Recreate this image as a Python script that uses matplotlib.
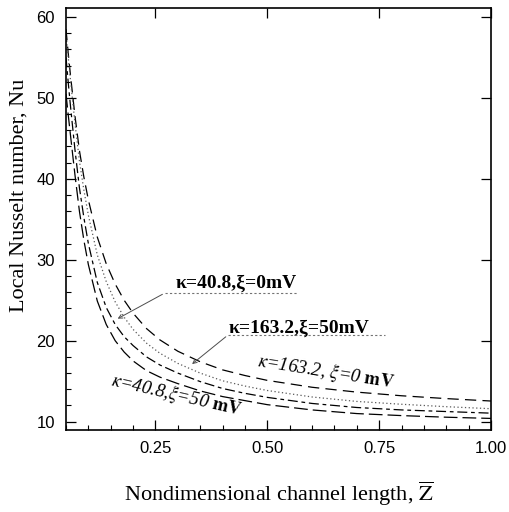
import matplotlib
matplotlib.use('Agg')
import matplotlib.pyplot as plt
from matplotlib.ticker import MultipleLocator

plt.rcParams['mathtext.fontset'] = 'stix'
plt.rcParams['font.family'] = ['Liberation Sans', 'DejaVu Sans']

# Nondimensional channel length, Z
z_vals = [0.05, 0.055, 0.06, 0.07, 0.08, 0.09, 0.10, 0.12, 0.14, 0.16, 0.18, 0.20,
          0.23, 0.26, 0.30, 0.35, 0.40, 0.45, 0.50, 0.60, 0.70, 0.80, 0.90, 1.00]

# Local Nusselt number for each case
nu_k41_x0 = [58.5, 55.5, 52.8, 47.8, 43.5, 40.2, 37.4, 32.8, 29.5, 27.0, 25.0, 23.4,
             21.5, 20.1, 18.7, 17.4, 16.4, 15.7, 15.1, 14.25, 13.65, 13.2, 12.85, 12.55]
nu_k163_x50 = [58.0, 55.0, 52.2, 46.9, 42.2, 38.6, 35.5, 30.6, 27.3, 24.8, 22.9, 21.4,
               19.7, 18.45, 17.2, 16.0, 15.05, 14.4, 13.85, 13.05, 12.5, 12.15, 11.85, 11.6]
nu_k163_x0 = [55.0, 51.9, 49.0, 43.6, 38.9, 35.2, 32.0, 27.2, 24.1, 22.0, 20.5, 19.4,
              18.0, 17.0, 16.0, 14.95, 14.1, 13.5, 13.0, 12.25, 11.75, 11.45, 11.25, 11.05]
nu_k41_x50 = [50.5, 47.9, 45.4, 40.5, 36.0, 32.4, 29.4, 24.9, 22.0, 20.0, 18.6, 17.5,
              16.3, 15.5, 14.7, 13.8, 13.1, 12.6, 12.1, 11.45, 11.0, 10.75, 10.55, 10.4]

x_ticks = [0.25, 0.50, 0.75, 1.00]
x_ticklabels = ['0.25', '0.50', '0.75', '1.00']
y_ticks = [10, 20, 30, 40, 50, 60]

fig = plt.figure(figsize=(5.09, 5.12), dpi=100)
ax = fig.add_axes([66/509, 1-430/512, 425/509, 422.5/512])

ax.plot(z_vals, nu_k41_x0, color='black', lw=0.9, ls=(0, (9, 5)))
ax.plot(z_vals, nu_k163_x50, color='0.35', lw=0.9, ls=(0, (1, 2)))
ax.plot(z_vals, nu_k163_x0, color='black', lw=0.9, ls=(0, (8, 3, 3, 3)))
ax.plot(z_vals, nu_k41_x50, color='black', lw=0.9, ls=(0, (11, 4)))

ax.set_xlim(0.05, 1.0)
ax.set_ylim(8.97, 61.17)
ax.set_xticks(x_ticks)
ax.set_xticklabels(x_ticklabels)
ax.set_yticks(y_ticks)
ax.xaxis.set_minor_locator(MultipleLocator(0.05))
ax.yaxis.set_minor_locator(MultipleLocator(2))
ax.tick_params(which='major', direction='in', length=7, width=0.9,
               top=True, right=True, labelsize=12, pad=8)
ax.tick_params(which='minor', direction='in', length=3.5, width=0.8,
               top=False, right=False)
for sp in ax.spines.values():
    sp.set_linewidth(1.2)

serif = ['Liberation Serif', 'DejaVu Serif']
ax.set_xlabel(r'Nondimensional channel length, $\overline{\mathrm{Z}}$',
              family=serif, fontsize=16, labelpad=17)
ax.set_ylabel('Local Nusselt number, Nu', family=serif, fontsize=16)
ax.yaxis.set_label_coords(-0.088, 0.556)

# labels
ax.text(0.430, 27.13, 'κ=40.8,ξ=0mV', family=serif, fontweight='bold',
        fontsize=14, ha='center', va='center')
ax.text(0.571, 21.57, 'κ=163.2,ξ=50mV', family=serif, fontweight='bold',
        fontsize=14, ha='center', va='center')
ax.text(0.631, 16.14, r'$\kappa$=163.2, $\xi$=0 $\mathbf{mV}$', family=serif,
        style='italic', fontsize=13.5, ha='center', va='center', rotation=-9,
        rotation_mode='anchor')
ax.text(0.298, 13.3, r'$\kappa$=40.8,$\xi$=50 $\mathbf{mV}$', family=serif,
        style='italic', fontsize=13.5, ha='center', va='center', rotation=-13,
        rotation_mode='anchor')

# underlines and leaders
ax.plot([0.271, 0.566], [25.9, 25.9], color='0.45', lw=0.8, ls=(0, (2, 2)))
ax.plot([0.412, 0.763], [20.7, 20.7], color='0.45', lw=0.8, ls=(0, (2, 2)))
ax.annotate('', xy=(0.160, 22.56), xytext=(0.271, 25.9),
            arrowprops=dict(arrowstyle='->', color='0.3', lw=0.7, mutation_scale=7))
ax.annotate('', xy=(0.327, 16.9), xytext=(0.412, 20.7),
            arrowprops=dict(arrowstyle='->', color='0.3', lw=0.7, mutation_scale=7))

fig.savefig('out.png', dpi=100)
